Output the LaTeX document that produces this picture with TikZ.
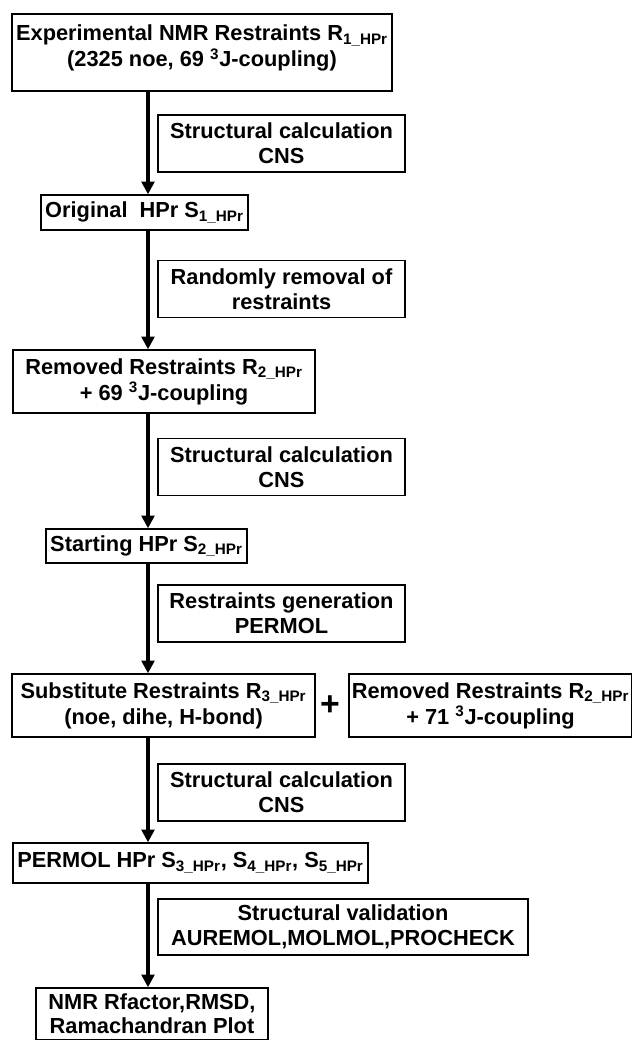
\documentclass[tikz,border=0pt]{standalone}
\usepackage{fontspec}
\setmainfont{Liberation Sans}
\usepackage{tikz}
\usetikzlibrary{arrows.meta, positioning, calc}

\begin{document}
\begin{tikzpicture}[
    stage/.style={rectangle, draw=black, line width=1pt, fill=white, align=center, inner sep=2pt, font=\fontsize{15.5}{18.5}\selectfont\bfseries},
    tool/.style={rectangle, draw=black, line width=1pt, fill=white, align=center, inner sep=2pt, font=\fontsize{15.5}{18}\selectfont\bfseries, minimum width=6.175cm, minimum height=1.425cm},
    arr/.style={-{Triangle[length=3.2mm, width=3.2mm]}, line width=2.3pt, draw=black}
]
    \useasboundingbox (0,0) rectangle (15.8,-26);
    \coordinate (spine) at (3.7,0);

    % Stufe 1: experimentelle Daten und erste Rechnung
    \node[stage, minimum width=9.5cm, minimum height=1.925cm] (exp_restr) at (5.05,-1.3125) {Experimental NMR Restraints R\textsubscript{1\_HPr}\\(2325 noe, 69 \textsuperscript{3}J-coupling)\\[-0.33cm]\mbox{}};
    \node[tool] (calc_cns1) at (7.0375,-3.5875) {Structural calculation\\CNS};
    \node[stage, minimum width=5.175cm, minimum height=0.875cm] (orig_hpr) at (3.6125,-5.3125) {Original~ HPr S\textsubscript{1\_HPr}};

    \draw[arr] (exp_restr.south -| spine) -- (orig_hpr.north -| spine);

    % Stufe 2: Entfernen von Restraints
    \node[tool] (rand_remove) at (7.0375,-7.225) {Randomly removal of\\restraints};
    \node[stage, minimum width=7.55cm, minimum height=1.575cm] (rem_restr) at (4.1,-9.5375) {Removed Restraints R\textsubscript{2\_HPr}\\+ 69 \textsuperscript{3}J-coupling};

    \draw[arr] (orig_hpr.south -| spine) -- (rem_restr.north -| spine);

    % Stufe 3: Startstruktur
    \node[tool] (calc_cns2) at (7.0375,-11.675) {Structural calculation\\CNS};
    \node[stage, minimum width=5.025cm, minimum height=0.85cm] (start_hpr) at (3.6625,-13.65) {Starting HPr S\textsubscript{2\_HPr}};

    \draw[arr] (rem_restr.south -| spine) -- (start_hpr.north -| spine);

    % Stufe 4: PERMOL-Restraints
    \node[tool] (gen_permol) at (7.0375,-15.3375) {Restraints generation\\PERMOL};
    \node[stage, minimum width=7.575cm, minimum height=1.575cm] (subst_restr) at (4.0875,-17.6375) {Substitute Restraints R\textsubscript{3\_HPr}\\(noe, dihe, H-bond)};
    \node[font=\fontsize{24}{26}\selectfont\bfseries, inner sep=0pt] (plus_sign) at (8.25,-17.65) {+};
    \node[stage, minimum width=7.075cm, minimum height=1.575cm] (rem_restr2) at (12.2625,-17.6375) {Removed Restraints R\textsubscript{2\_HPr}\\+ 71 \textsuperscript{3}J-coupling};

    \draw[arr] (start_hpr.south -| spine) -- (subst_restr.north -| spine);

    % Stufe 5: PERMOL-Strukturen und Validierung
    \node[tool] (calc_cns3) at (7.0375,-19.8125) {Structural calculation\\CNS};
    \node[stage, minimum width=8.875cm, minimum height=1.0cm] (permol_hpr) at (4.7625,-21.575) {PERMOL HPr S\textsubscript{3\_HPr}, S\textsubscript{4\_HPr}, S\textsubscript{5\_HPr}};
    \node[tool, minimum width=9.25cm, minimum height=1.4cm] (validation) at (8.575,-23.175) {Structural validation\\AUREMOL,MOLMOL,PROCHECK};
    \node[stage, minimum width=5.8cm, minimum height=1.3cm, font=\fontsize{15.5}{17}\selectfont\bfseries] (quality) at (3.8,-25.35) {NMR Rfactor,RMSD,\\Ramachandran Plot};

    \draw[arr] (subst_restr.south -| spine) -- (permol_hpr.north -| spine);
    \draw[arr] (permol_hpr.south -| spine) -- (quality.north -| spine);
\end{tikzpicture}
\end{document}
